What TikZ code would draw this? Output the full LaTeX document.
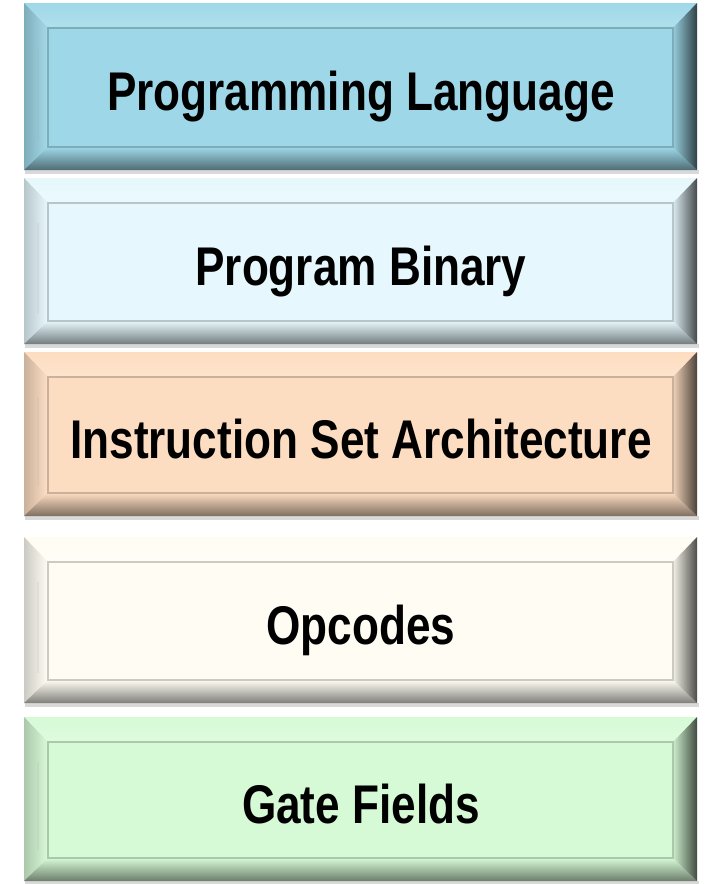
\documentclass[tikz,border=0pt]{standalone}
\usepackage{fontspec}
\newfontfamily\layerfont[FakeStretch=0.81]{Liberation Sans}

\definecolor{langblue}{HTML}{9ED8E8}
\definecolor{binblue}{HTML}{E6F8FD}
\definecolor{isapeach}{HTML}{FDDDC1}
\definecolor{opcream}{HTML}{FFFDF3}
\definecolor{gategreen}{HTML}{D6FAD6}

\tikzset{
    layer text/.style={font=\layerfont\bfseries\fontsize{54.5}{60}\selectfont, text=black, anchor=base, inner sep=0pt},
}

\begin{document}
\begin{tikzpicture}[x=1pt, y=-1pt]
    % Canvas
    \fill[white] (0,0) rectangle (705,884);
    \useasboundingbox (0,0) rectangle (705,884);

    % Layers, top to bottom
    \foreach \name/\top/\bot/\col/\txt in {
        lang/3/170/langblue/Programming Language,
        bin/178/344/binblue/Program Binary,
        isa/352/516/isapeach/Instruction Set Architecture,
        op/537/703/opcream/Opcodes,
        gate/717/881/gategreen/Gate Fields}
    {
        % Shadow
        \fill[black!15] (25,\bot) rectangle (699,\bot+4);

        % Face
        \fill[\col] (24,\top) rectangle (697,\bot);

        % Bevels
        \shade[top color=\col, middle color=\col!30!white, bottom color=\col!80!white]
            (24,\top) -- (697,\top) -- (673,\top+25) -- (48,\top+25) -- cycle;
        \shade[left color=\col!80!black, right color=\col!92!white]
            (24,\top) -- (48,\top+25) -- (48,\bot-23) -- (24,\bot) -- cycle;
        \shade[top color=\col, middle color=\col!85!black, bottom color=\col!50!black]
            (24,\bot) -- (48,\bot-23) -- (673,\bot-23) -- (697,\bot) -- cycle;
        \shade[left color=\col!95!black, right color=\col!30!black]
            (697,\top) -- (673,\top+25) -- (673,\bot-23) -- (697,\bot) -- cycle;

        % Inner edge and highlight line
        \draw[\col!80!black, line width=1.2] (48,\top+25) rectangle (673,\bot-23);
        \draw[\col!75!gray, line width=1.5] (38,\top+45) -- (38,\bot-30);

        % Label
        \node[layer text] (\name) at (361,{(\top+\bot)/2+24}) {\txt};
    }
\end{tikzpicture}
\end{document}
